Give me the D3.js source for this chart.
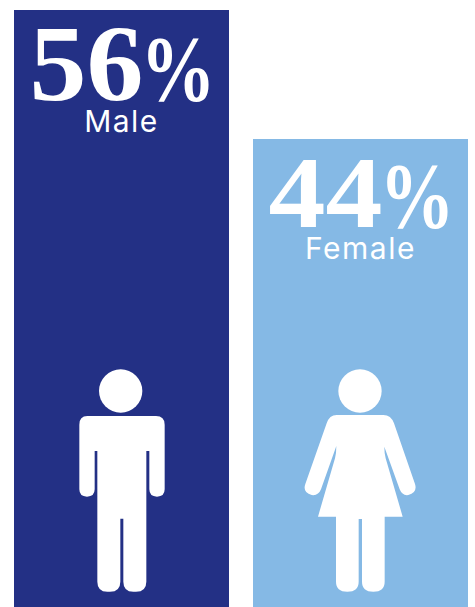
<!DOCTYPE html>
<html><head><meta charset="utf-8">
<script src="https://cdnjs.cloudflare.com/ajax/libs/d3/7.8.5/d3.min.js"></script>
<style>html,body{margin:0;padding:0;background:#fff}svg{display:block}</style>
</head><body><div id="c"></div>
<script>
const categories = ["Male", "Female"];
const values = [56, 44];
const colors = ["#233085", "#85B9E5"];
const glyphs = [
 "M82 168H288Q314 168 314 194V388Q314 410 291 410Q268 410 268 388V273H259V665Q259 695 228 695H220Q190 695 190 665V476H181V665Q181 695 150 695H142Q112 695 112 665V273H104V388Q104 410 81 410Q58 410 58 388V194Q58 168 82 168Z",
 "M125 165H265Q288 165 297 190L360 372Q368 398 340 405Q322 408 314 388L268 260Q268 280 272 295L323 470H269V665Q269 695 235 695Q201 695 201 665V477H191V665Q191 695 157 695Q123 695 123 665V470H69L120 295Q124 280 124 258L78 388Q70 408 50 405Q22 398 31 372L95 190Q103 165 125 165Z"
];
const glyphOriginX = [184.5, 196.5];
const W = 475, H = 607;
const svg = d3.select("#c").append("svg").attr("width", W).attr("height", H);
const x = d3.scaleBand().domain(categories).range([14, 468]).paddingInner(24/239);
const y = d3.scaleLinear().domain([0, 56]).range([612, 10]);
const g = svg.selectAll("g.bar").data(categories).join("g").attr("class", "bar");
const mid = d => x(d) + x.bandwidth() / 2;
g.append("rect").attr("x", d => x(d)).attr("width", x.bandwidth())
 .attr("y", (d, i) => y(values[i])).attr("height", (d, i) => y(0) - y(values[i]))
 .attr("fill", (d, i) => colors[i]);
g.append("text").attr("fill", "#fff").attr("font-family", "'Liberation Serif', serif").attr("font-weight", 700)
 .attr("x", d => mid(d) - 92)
 .attr("y", (d, i) => y(values[i]) + (i ? 88 : 90))
 .attr("font-size", (d, i) => i ? 102 : 108)
 .attr("textLength", 114).attr("lengthAdjust", "spacingAndGlyphs")
 .text((d, i) => values[i]);
g.append("text").attr("fill", "#fff").attr("font-family", "'Liberation Serif', serif").attr("font-weight", 700)
 .attr("x", d => mid(d) + 19)
 .attr("y", (d, i) => y(values[i]) + (i ? 88 : 90))
 .attr("font-size", 94)
 .attr("textLength", 75).attr("lengthAdjust", "spacingAndGlyphs")
 .text("%");
g.append("text").attr("text-anchor", "middle").attr("fill", "#fff")
 .attr("x", mid)
 .attr("y", (d, i) => y(values[i]) + (i ? 120 : 122))
 .attr("font-family", "Inter, sans-serif").attr("font-size", 30).attr("letter-spacing", 1.5).text(d => d);
const icon = g.append("g").attr("transform", (d, i) => `translate(${mid(d) - glyphOriginX[i] / 3},360) scale(${1 / 3})`).attr("fill", "#fff");
icon.append("circle").attr("cx", (d, i) => glyphOriginX[i] - (i ? 1.5 : 2.5)).attr("cy", 93).attr("r", 65);
icon.append("path").attr("d", (d, i) => glyphs[i]);
</script></body></html>
